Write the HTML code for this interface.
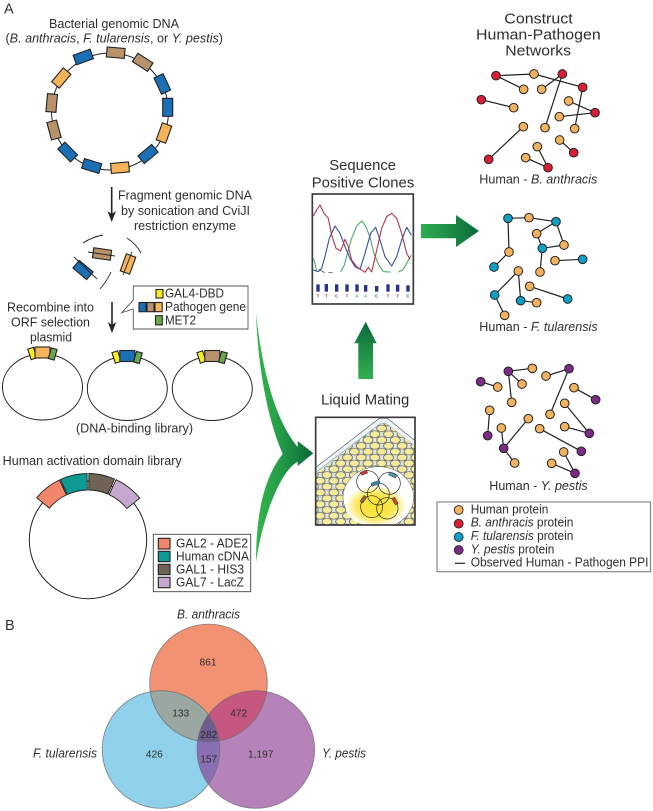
<!DOCTYPE html>
<html><head><meta charset="utf-8">
<style>
html,body{margin:0;padding:0;background:#fff}
svg{display:block}
text{font-family:"Liberation Sans",sans-serif;fill:#2e2e2e;font-size:12.5px}
.i{font-style:italic}
.n{font-size:10.2px}
.h{font-size:15px}
.g rect{stroke:#222;stroke-width:1.1}
.e line{stroke:#222;stroke-width:3.6}
.e circle{stroke:#222;stroke-width:3}
.o{fill:#f3b25f}.r{fill:#d91f35}.b{fill:#0ea0c6}.p{fill:#7b2a86}
</style></head><body>
<svg xmlns="http://www.w3.org/2000/svg" width="653" height="811" viewBox="0 0 653 811">
<defs>
<linearGradient id="gh" x1="0" x2="1" y1="0" y2="0"><stop offset="0" stop-color="#2fae4e"/><stop offset="1" stop-color="#0a6a3c"/></linearGradient>
<linearGradient id="gv" x1="0" x2="0" y1="0" y2="1"><stop offset="0" stop-color="#0a6a3c"/><stop offset="1" stop-color="#30b050"/></linearGradient>
<linearGradient id="gb" gradientUnits="userSpaceOnUse" x1="256" x2="313" y1="0" y2="0"><stop offset="0" stop-color="#36b54c"/><stop offset=".45" stop-color="#229a48"/><stop offset="1" stop-color="#0a6639"/></linearGradient>
<clipPath id="cr"><circle cx="208.5" cy="683" r="58.8"/></clipPath>
<clipPath id="cb"><circle cx="161" cy="749.5" r="58.8"/></clipPath>
<clipPath id="cp"><circle cx="255.8" cy="749.5" r="58.8"/></clipPath>
<clipPath id="mbox"><rect x="197" y="322" width="298" height="323"/></clipPath>
<clipPath id="wellclip"><polygon points="197,492 392,340 408,340 495,408 495,645 197,645"/></clipPath>
<pattern id="wells" patternUnits="userSpaceOnUse" width="41" height="35" patternTransform="translate(374.5 346.25)">
<rect width="41" height="35" fill="#dfe8e6"/>
<g fill="#f6ec9c" stroke="#555" stroke-width="2">
<ellipse cx="0" cy="-8.75" rx="15" ry="10"/>
<ellipse cx="41" cy="-8.75" rx="15" ry="10"/>
<ellipse cx="20.5" cy="8.75" rx="15" ry="10"/>
<ellipse cx="0" cy="26.25" rx="15" ry="10"/>
<ellipse cx="41" cy="26.25" rx="15" ry="10"/>
<ellipse cx="20.5" cy="43.75" rx="15" ry="10"/>
</g>
</pattern>
<radialGradient id="yg"><stop offset="0" stop-color="#f7e02a"/><stop offset=".6" stop-color="#f9e752"/><stop offset="1" stop-color="#fff" /></radialGradient>
</defs>

<!-- Panel labels -->
<text x="4" y="13.5" style="font-size:14.5px">A</text>
<text x="5" y="630" style="font-size:14.5px">B</text>

<!-- Genome -->
<text x="49" y="28" textLength="130" lengthAdjust="spacingAndGlyphs">Bacterial genomic DNA</text>
<text x="5.5" y="42.7" textLength="217.5" lengthAdjust="spacingAndGlyphs">(<tspan class="i">B. anthracis</tspan>, <tspan class="i">F. tularensis</tspan>, or <tspan class="i">Y. pestis</tspan>)</text>
<circle cx="110" cy="111.5" r="58.5" fill="none" stroke="#222" stroke-width="1"/>
<g class="g">
<rect x="-9" y="-5" width="18" height="10" fill="#b8926a" transform="translate(115.7 52.7) rotate(5)"/>
<rect x="-9" y="-5" width="18" height="10" fill="#b8926a" transform="translate(142.7 62.3) rotate(33)"/>
<rect x="-9" y="-5" width="18" height="10" fill="#1b6fb5" transform="translate(162.3 84) rotate(65)"/>
<rect x="-9" y="-5" width="18" height="10" fill="#1b6fb5" transform="translate(167.7 107.3) rotate(90)"/>
<rect x="-9" y="-5" width="18" height="10" fill="#f5b459" transform="translate(164 133) rotate(110)"/>
<rect x="-9" y="-5" width="18" height="10" fill="#1b6fb5" transform="translate(148 154) rotate(140)"/>
<rect x="-9" y="-5" width="18" height="10" fill="#f5b459" transform="translate(120 167.7) rotate(175)"/>
<rect x="-9" y="-5" width="18" height="10" fill="#1b6fb5" transform="translate(91.7 166) rotate(197)"/>
<rect x="-9" y="-5" width="18" height="10" fill="#1b6fb5" transform="translate(67.7 152) rotate(225)"/>
<rect x="-9" y="-5" width="18" height="10" fill="#b8926a" transform="translate(54 130) rotate(255)"/>
<rect x="-9" y="-5" width="18" height="10" fill="#b8926a" transform="translate(51.7 103) rotate(275)"/>
<rect x="-9" y="-5" width="18" height="10" fill="#f5b459" transform="translate(61.3 78) rotate(310)"/>
<rect x="-9" y="-5" width="18" height="10" fill="#1b6fb5" transform="translate(83.3 57) rotate(340)"/>
</g>

<!-- arrow 1 -->
<line x1="111.7" y1="187" x2="111.7" y2="214" stroke="#222" stroke-width="1.6"/>
<polygon points="107.5,211 111.7,222 116,211 111.7,214" fill="#222"/>
<text x="118" y="199.3" textLength="134" lengthAdjust="spacingAndGlyphs">Fragment genomic DNA</text>
<text x="121" y="215" textLength="129" lengthAdjust="spacingAndGlyphs">by sonication and CviJI</text>
<text x="134" y="230" textLength="102" lengthAdjust="spacingAndGlyphs">restriction enzyme</text>

<!-- fragments -->
<g class="g">
<rect x="-9" y="-5" width="18" height="10" fill="#b8926a" transform="translate(102 254) rotate(8)"/>
<rect x="-9" y="-5" width="18" height="10" fill="#f5b459" transform="translate(128 264) rotate(110)"/>
<rect x="-9" y="-5" width="18" height="10" fill="#1b6fb5" transform="translate(83 270) rotate(40)"/>
</g>
<g fill="none" stroke="#222" stroke-width=".9">
<path d="M83,243 Q92,237 103,235"/>
<path d="M127,238 Q136,244 141,253"/>
<path d="M100,289 Q107,281 111,272"/>
<line x1="88" y1="252" x2="115" y2="256"/>
<line x1="132" y1="252" x2="123" y2="275"/>
<line x1="74" y1="257" x2="97" y2="279"/>
</g>

<!-- arrow 2 -->
<line x1="112" y1="302" x2="112" y2="325" stroke="#222" stroke-width="1.6"/>
<polygon points="107.8,322 112,333 116.2,322 112,325" fill="#222"/>
<text x="7" y="311.7" textLength="87" lengthAdjust="spacingAndGlyphs">Recombine into</text>
<text x="11" y="326.7" textLength="79" lengthAdjust="spacingAndGlyphs">ORF selection</text>
<text x="30" y="341.7" textLength="42" lengthAdjust="spacingAndGlyphs">plasmid</text>

<!-- Legend 1 -->
<path d="M133.3,286 H248 V329 H133.3 V309 L121.7,312.7 L133.3,300 Z" fill="#fff" stroke="#555" stroke-width=".9"/>
<g class="g">
<rect x="156" y="289.5" width="7" height="8.5" fill="#f7ee1f"/>
<rect x="139" y="302.5" width="7" height="9.2" fill="#1b6fb5"/>
<rect x="147" y="302.5" width="7" height="9.2" fill="#b8926a"/>
<rect x="155" y="302.5" width="7.2" height="9.2" fill="#f5b459"/>
<rect x="155.5" y="315.7" width="6.8" height="9.2" fill="#6aa84f"/>
</g>
<text x="165" y="297.7" textLength="59" lengthAdjust="spacingAndGlyphs">GAL4-DBD</text>
<text x="165" y="311" textLength="81" lengthAdjust="spacingAndGlyphs">Pathogen gene</text>
<text x="165" y="324.3" textLength="31" lengthAdjust="spacingAndGlyphs">MET2</text>

<!-- plasmids -->
<g fill="none" stroke="#222" stroke-width="1">
<ellipse cx="42.5" cy="387" rx="40" ry="33"/>
<ellipse cx="127.3" cy="388.5" rx="40" ry="32"/>
<ellipse cx="212.3" cy="388.5" rx="40" ry="32"/>
</g>
<g class="g">
<rect x="-3" y="-5.5" width="6" height="11" fill="#f7ee1f" transform="translate(32.3 353.5) rotate(-18)"/>
<rect x="-7.5" y="-5.5" width="15" height="11" fill="#f5b459" transform="translate(42.5 352.5)"/>
<rect x="-3" y="-5.5" width="6" height="11" fill="#6aa84f" transform="translate(52.7 354) rotate(16)"/>
<rect x="-3" y="-5.5" width="6" height="11" fill="#f7ee1f" transform="translate(116.5 357) rotate(-18)"/>
<rect x="-7.5" y="-5.5" width="15" height="11" fill="#1b6fb5" transform="translate(127.3 356)"/>
<rect x="-3" y="-5.5" width="6" height="11" fill="#6aa84f" transform="translate(137.9 357.5) rotate(16)"/>
<rect x="-3" y="-5.5" width="6" height="11" fill="#f7ee1f" transform="translate(201.5 357) rotate(-18)"/>
<rect x="-7.5" y="-5.5" width="15" height="11" fill="#b8926a" transform="translate(212.3 356)"/>
<rect x="-3" y="-5.5" width="6" height="11" fill="#6aa84f" transform="translate(222.9 357.5) rotate(16)"/>
</g>
<text x="76" y="432.3" textLength="117" lengthAdjust="spacingAndGlyphs">(DNA-binding library)</text>

<!-- AD library -->
<text x="2.7" y="465" textLength="179" lengthAdjust="spacingAndGlyphs">Human activation domain library</text>
<circle cx="88" cy="540" r="58.7" fill="none" stroke="#222" stroke-width="1"/>
<g stroke="#222" stroke-width=".9">
<path d="M36.7,497.7 A66.5,66.5 0 0 1 59.4,480 L66.5,494.9 A50,50 0 0 0 49.4,508.2 Z" fill="#f2866b"/>
<path d="M60.4,479.5 A66.5,66.5 0 0 1 87.1,473.5 L87.3,490 A50,50 0 0 0 67.3,494.5 Z" fill="#0c9a92"/>
<path d="M88.9,473.5 A66.5,66.5 0 0 1 114.5,479 L107.9,494.1 A50,50 0 0 0 88.7,490 Z" fill="#6e6355"/>
<path d="M116.1,479.7 A66.5,66.5 0 0 1 139.7,498.2 L126.9,508.5 A50,50 0 0 0 109.1,494.7 Z" fill="#c6a7cf"/>
</g>

<!-- Legend 2 -->
<rect x="153.3" y="534.3" width="97.4" height="57.4" fill="#fff" stroke="#444" stroke-width=".9"/>
<g class="g">
<rect x="158.3" y="538.3" width="11.7" height="10.7" fill="#f2866b"/>
<rect x="158.3" y="551.3" width="11.7" height="10.4" fill="#0c9a92"/>
<rect x="158.3" y="564.3" width="11.7" height="10.4" fill="#6e6355"/>
<rect x="158.3" y="577.3" width="11.7" height="10.4" fill="#c6a7cf"/>
</g>
<text x="176" y="547.5" textLength="72" lengthAdjust="spacingAndGlyphs">GAL2 - ADE2</text>
<text x="176" y="560.5" textLength="73" lengthAdjust="spacingAndGlyphs">Human cDNA</text>
<text x="176" y="573.5" textLength="68" lengthAdjust="spacingAndGlyphs">GAL1 - HIS3</text>
<text x="176" y="586.7" textLength="68" lengthAdjust="spacingAndGlyphs">GAL7 - LacZ</text>

<!-- Large curved arrow -->
<path d="M256,313 C262,370 275,420 297.7,447 L297.7,441 L313.3,453.3 L297.7,466 L297.7,461.7 C281,470 263,515 256,562 C256,520 262,480 282.7,454 C268,420 258,370 256,313 Z" fill="url(#gb)"/>

<!-- Up and right arrows -->
<polygon points="365.7,321.7 376.7,343.3 373,343.3 373,379 358.3,379 358.3,343.3 354.3,343.3" fill="url(#gv)"/>
<polygon points="421,224 456,224 456,215 479,231 456,247 456,238.3 421,238.3" fill="url(#gh)"/>

<!-- Sequence -->
<text class="h" x="329.3" y="170" textLength="66.7" lengthAdjust="spacingAndGlyphs">Sequence</text>
<text class="h" x="311.7" y="187.7" textLength="102.6" lengthAdjust="spacingAndGlyphs">Positive Clones</text>
<g transform="translate(250 150) scale(.33333)">
<rect x="187" y="132" width="303" height="330" fill="#fff" stroke="#3a3a3a" stroke-width="5"/>
<g fill="none" stroke-width="3.2" stroke-linejoin="round">
<polyline stroke="#4aa86b" points="190,325 195,340 200,365"/>
<polyline stroke="#4aa86b" points="272,366 283,345 295,300 305,265 320,228 335,213 347,228 360,262 372,310 385,342 400,365 422,366"/>
<polyline stroke="#4aa86b" points="445,366 458,360 470,340 484,315"/>
<polyline stroke="#2f4da0" points="190,360 205,365 215,355 225,320 238,265 255,228 270,250 285,290 300,325 315,350 330,358 345,310 362,250 377,232 390,270 405,320 425,348 440,320 455,270 470,232 484,255"/>
<polyline stroke="#b03048" points="190,198 200,180 210,165 222,190 235,205 245,255 258,295 272,303 285,268 295,290 305,330 320,350 345,367 355,352 365,366 378,310 395,235 410,200 425,190 440,205 455,250 470,310 480,328"/>
<g stroke="#3a3a3a" stroke-width="2"><line x1="235" y1="368" x2="248" y2="368"/><line x1="205" y1="358" x2="225" y2="368"/></g>
</g>
<g fill="#2a2f8a">
<rect x="199" y="403" width="10" height="22"/><rect x="224" y="402" width="10" height="23"/><rect x="255" y="403" width="10" height="22"/><rect x="286" y="403" width="10" height="22"/><rect x="316" y="403" width="10" height="22"/><rect x="342" y="405" width="10" height="20"/><rect x="375" y="408" width="10" height="17"/><rect x="409" y="403" width="10" height="22"/><rect x="438" y="404" width="10" height="21"/><rect x="469" y="406" width="10" height="19"/>
</g>
<g style="font-weight:bold">
<text x="204" y="443" text-anchor="middle" style="font-size:13px;fill:#b03048">T</text>
<text x="229" y="443" text-anchor="middle" style="font-size:13px;fill:#b03048">T</text>
<text x="260" y="443" text-anchor="middle" style="font-size:13px;fill:#2f4da0">C</text>
<text x="291" y="443" text-anchor="middle" style="font-size:13px;fill:#b03048">T</text>
<text x="321" y="443" text-anchor="middle" style="font-size:13px;fill:#4aa86b">A</text>
<text x="347" y="443" text-anchor="middle" style="font-size:13px;fill:#4aa86b">A</text>
<text x="380" y="443" text-anchor="middle" style="font-size:13px;fill:#2f4da0">C</text>
<text x="414" y="443" text-anchor="middle" style="font-size:13px;fill:#b03048">T</text>
<text x="443" y="443" text-anchor="middle" style="font-size:13px;fill:#b03048">T</text>
<text x="474" y="443" text-anchor="middle" style="font-size:13px;fill:#2f4da0">C</text>
</g>
</g>

<!-- Liquid Mating -->
<text class="h" x="321" y="404.3" textLength="88.3" lengthAdjust="spacingAndGlyphs">Liquid Mating</text>
<g transform="translate(250 310) scale(.33333)">
<rect x="197" y="322" width="298" height="323" fill="#fff"/>
<g clip-path="url(#mbox)">
<polygon points="190,478 388,325 412,325 500,396 500,650 190,650" fill="#eef5f9" stroke="#55636e" stroke-width="2"/>
<polygon points="190,492 392,340 408,340 500,412 500,650 190,650" fill="#cfe2ee" stroke="#8ca8bc" stroke-width="2"/>
<rect x="197" y="340" width="298" height="305" fill="url(#wells)" clip-path="url(#wellclip)"/>
<ellipse cx="385" cy="562" rx="106" ry="92" fill="#fff" stroke="#555" stroke-width="1.5"/>
<ellipse cx="378" cy="588" rx="92" ry="62" fill="url(#yg)"/>
<g fill="none" stroke="#222" stroke-width="2">
<circle cx="353" cy="515" r="33"/><circle cx="418" cy="520" r="33"/><circle cx="385" cy="552" r="33"/><circle cx="365" cy="590" r="33"/><circle cx="412" cy="595" r="32"/>
</g>
<g stroke="#222" stroke-width="1">
<rect x="-10" y="-5" width="20" height="10" fill="#c23a3a" transform="translate(342 488) rotate(-20)"/>
<rect x="-12" y="-5" width="24" height="10" fill="#4d95b5" transform="translate(428 495) rotate(25)"/>
<rect x="-13" y="-5" width="26" height="10" fill="#3a86a8" transform="translate(377 520) rotate(-20)"/>
<rect x="-11" y="-5" width="22" height="10" fill="#a05a3c" transform="translate(340 568) rotate(-55)"/>
<rect x="-11" y="-5" width="22" height="10" fill="#c2482f" transform="translate(435 573) rotate(60)"/>
</g>
</g>
<rect x="197" y="322" width="298" height="323" fill="none" stroke="#3a3a3a" stroke-width="5"/>
</g>

<!-- Networks -->
<text class="h" x="504.3" y="23.3" textLength="68.4" lengthAdjust="spacingAndGlyphs">Construct</text>
<text class="h" x="476" y="39.3" textLength="124.7" lengthAdjust="spacingAndGlyphs">Human-Pathogen</text>
<text class="h" x="505.3" y="55.7" textLength="65.7" lengthAdjust="spacingAndGlyphs">Networks</text>

<g class="e" transform="translate(460 0) scale(.33333)">
<line x1="108" y1="227" x2="222" y2="222"/><line x1="108" y1="227" x2="191" y2="268"/><line x1="222" y1="222" x2="368" y2="262"/><line x1="307" y1="222" x2="245" y2="268"/><line x1="307" y1="222" x2="255" y2="383"/><line x1="368" y1="262" x2="344" y2="386"/><line x1="64" y1="299" x2="161" y2="323"/><line x1="326" y1="303" x2="405" y2="338"/><line x1="298" y1="350" x2="405" y2="338"/><line x1="190" y1="380" x2="86" y2="478"/><line x1="299" y1="420" x2="341" y2="458"/><line x1="232" y1="440" x2="264" y2="503"/><line x1="197" y1="473" x2="264" y2="503"/>
<g class="r"><circle cx="108" cy="227" r="13"/><circle cx="307" cy="222" r="13"/><circle cx="368" cy="262" r="13"/><circle cx="64" cy="299" r="13"/><circle cx="405" cy="338" r="13"/><circle cx="86" cy="478" r="13"/><circle cx="341" cy="458" r="13"/><circle cx="264" cy="503" r="13"/></g>
<g class="o"><circle cx="222" cy="222" r="13"/><circle cx="191" cy="268" r="13"/><circle cx="245" cy="268" r="13"/><circle cx="326" cy="303" r="13"/><circle cx="161" cy="323" r="13"/><circle cx="298" cy="350" r="13"/><circle cx="190" cy="380" r="13"/><circle cx="255" cy="383" r="13"/><circle cx="344" cy="386" r="13"/><circle cx="299" cy="420" r="13"/><circle cx="232" cy="440" r="13"/><circle cx="197" cy="473" r="13"/></g>
</g>
<text x="479.3" y="183.3" textLength="118" lengthAdjust="spacingAndGlyphs">Human - <tspan class="i">B. anthracis</tspan></text>

<g class="e" transform="translate(460 195) scale(.33333)">
<line x1="144" y1="70" x2="207" y2="68"/><line x1="207" y1="68" x2="288" y2="80"/><line x1="144" y1="70" x2="147" y2="171"/><line x1="147" y1="171" x2="102" y2="216"/><line x1="288" y1="80" x2="230" y2="116"/><line x1="288" y1="80" x2="312" y2="150"/><line x1="230" y1="116" x2="247" y2="160"/><line x1="247" y1="160" x2="312" y2="150"/><line x1="247" y1="160" x2="240" y2="231"/><line x1="285" y1="197" x2="368" y2="193"/><line x1="175" y1="228" x2="104" y2="300"/><line x1="175" y1="228" x2="182" y2="317"/><line x1="104" y1="300" x2="134" y2="361"/><line x1="182" y1="317" x2="230" y2="323"/><line x1="209" y1="274" x2="323" y2="312"/>
<g class="b"><circle cx="144" cy="70" r="13"/><circle cx="288" cy="80" r="13"/><circle cx="247" cy="160" r="13"/><circle cx="102" cy="216" r="13"/><circle cx="368" cy="193" r="13"/><circle cx="104" cy="300" r="13"/><circle cx="182" cy="317" r="13"/><circle cx="323" cy="312" r="13"/></g>
<g class="o"><circle cx="207" cy="68" r="13"/><circle cx="230" cy="116" r="13"/><circle cx="312" cy="150" r="13"/><circle cx="147" cy="171" r="13"/><circle cx="285" cy="197" r="13"/><circle cx="240" cy="231" r="13"/><circle cx="175" cy="228" r="13"/><circle cx="209" cy="274" r="13"/><circle cx="230" cy="323" r="13"/><circle cx="134" cy="361" r="13"/></g>
</g>
<text x="479.3" y="331" textLength="118.3" lengthAdjust="spacingAndGlyphs">Human - <tspan class="i">F. tularensis</tspan></text>

<g class="e" transform="translate(430 350) scale(.33333)">
<line x1="235" y1="64" x2="307" y2="55"/><line x1="348" y1="78" x2="417" y2="56"/><line x1="152" y1="95" x2="203" y2="111"/><line x1="235" y1="64" x2="276" y2="102"/><line x1="235" y1="64" x2="245" y2="157"/><line x1="417" y1="56" x2="360" y2="193"/><line x1="432" y1="113" x2="497" y2="149"/><line x1="404" y1="160" x2="478" y2="250"/><line x1="404" y1="230" x2="478" y2="250"/><line x1="179" y1="181" x2="173" y2="257"/><line x1="295" y1="206" x2="221" y2="295"/><line x1="214" y1="234" x2="221" y2="295"/><line x1="221" y1="295" x2="254" y2="339"/><line x1="329" y1="236" x2="454" y2="304"/><line x1="401" y1="306" x2="435" y2="370"/><line x1="365" y1="340" x2="435" y2="370"/>
<g class="p"><circle cx="152" cy="95" r="13"/><circle cx="235" cy="64" r="13"/><circle cx="417" cy="56" r="13"/><circle cx="497" cy="149" r="13"/><circle cx="173" cy="257" r="13"/><circle cx="478" cy="250" r="13"/><circle cx="221" cy="295" r="13"/><circle cx="454" cy="304" r="13"/><circle cx="435" cy="370" r="13"/></g>
<g class="o"><circle cx="307" cy="55" r="13"/><circle cx="348" cy="78" r="13"/><circle cx="203" cy="111" r="13"/><circle cx="276" cy="102" r="13"/><circle cx="432" cy="113" r="13"/><circle cx="245" cy="157" r="13"/><circle cx="404" cy="160" r="13"/><circle cx="179" cy="181" r="13"/><circle cx="360" cy="193" r="13"/><circle cx="295" cy="206" r="13"/><circle cx="214" cy="234" r="13"/><circle cx="329" cy="236" r="13"/><circle cx="404" cy="230" r="13"/><circle cx="401" cy="306" r="13"/><circle cx="254" cy="339" r="13"/><circle cx="365" cy="340" r="13"/></g>
</g>
<text x="489.3" y="490" textLength="98.4" lengthAdjust="spacingAndGlyphs">Human - <tspan class="i">Y. pestis</tspan></text>

<!-- Legend 3 -->
<rect x="437" y="502" width="213.5" height="69.7" fill="#fff" stroke="#888" stroke-width="1.2"/>
<g stroke="#222" stroke-width=".9">
<circle class="o" cx="458.7" cy="510" r="4.4"/>
<circle class="r" cx="458.7" cy="523.7" r="4.4"/>
<circle class="b" cx="458.7" cy="537" r="4.4"/>
<circle class="p" cx="458.7" cy="550" r="4.4"/>
</g>
<line x1="455" y1="563.3" x2="465" y2="563.3" stroke="#222" stroke-width="1.2"/>
<text x="470.7" y="513.3" textLength="77.6" lengthAdjust="spacingAndGlyphs">Human protein</text>
<text x="470.7" y="526.7" textLength="102.7" lengthAdjust="spacingAndGlyphs"><tspan class="i">B. anthracis</tspan> protein</text>
<text x="470.7" y="540" textLength="102.7" lengthAdjust="spacingAndGlyphs"><tspan class="i">F. tularensis</tspan> protein</text>
<text x="470.7" y="553.3" textLength="83.7" lengthAdjust="spacingAndGlyphs"><tspan class="i">Y. pestis</tspan> protein</text>
<text x="470.7" y="566.7" textLength="177.7" lengthAdjust="spacingAndGlyphs">Observed Human - Pathogen PPI</text>

<!-- Venn -->
<circle cx="161" cy="749.5" r="58.8" fill="#8fd0ea"/>
<circle cx="255.8" cy="749.5" r="58.8" fill="#b682ba"/>
<circle cx="208.5" cy="683" r="58.8" fill="#f39272"/>
<g clip-path="url(#cr)"><circle cx="161" cy="749.5" r="58.8" fill="#9aa7a3"/><circle cx="255.8" cy="749.5" r="58.8" fill="#c4567f"/></g>
<g clip-path="url(#cb)"><circle cx="255.8" cy="749.5" r="58.8" fill="#8a6fb4"/></g>
<g clip-path="url(#cb)"><g clip-path="url(#cp)"><circle cx="208.5" cy="683" r="58.8" fill="#6f5d90"/></g></g>
<g fill="none" stroke="#6b6b6b" stroke-opacity=".75" stroke-width=".9">
<circle cx="161" cy="749.5" r="58.8"/><circle cx="255.8" cy="749.5" r="58.8"/><circle cx="208.5" cy="683" r="58.8"/>
</g>
<text class="i" x="177" y="618.3" textLength="63" lengthAdjust="spacingAndGlyphs">B. anthracis</text>
<text class="i" x="33" y="757.3" textLength="64" lengthAdjust="spacingAndGlyphs">F. tularensis</text>
<text class="i" x="322" y="757.3" textLength="44" lengthAdjust="spacingAndGlyphs">Y. pestis</text>
<g text-anchor="middle">
<text class="n" x="208" y="665.7">861</text>
<text class="n" x="180.7" y="716.7">133</text>
<text class="n" x="238.7" y="716.7">472</text>
<text class="n" x="208.7" y="738">282</text>
<text class="n" x="154.3" y="757.3">426</text>
<text class="n" x="208.7" y="762.3">157</text>
<text class="n" x="260.7" y="757.3">1,197</text>
</g>
</svg>
</body></html>
